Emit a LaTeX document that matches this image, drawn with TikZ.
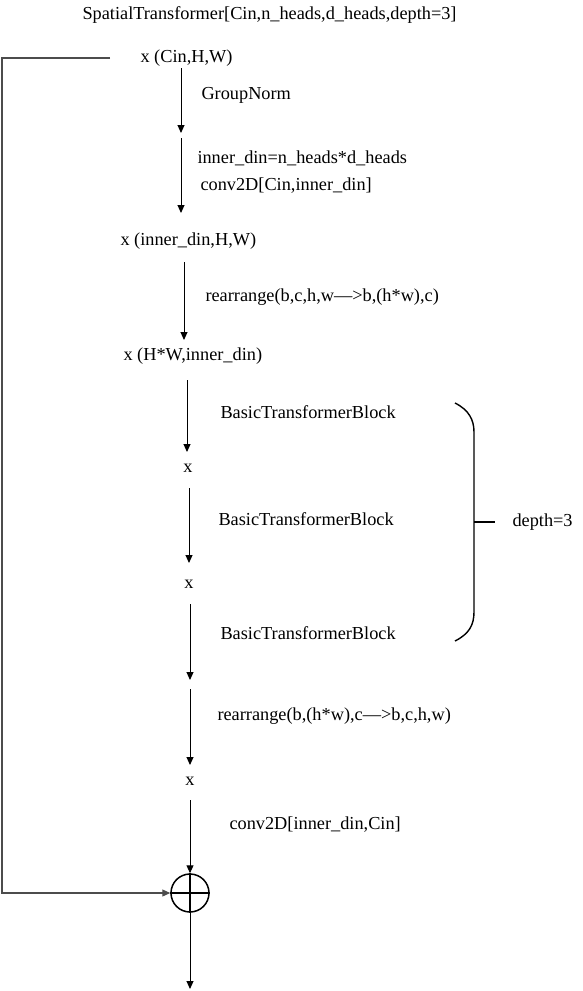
\documentclass[tikz,border=0pt]{standalone}
\usepackage{fontspec}
\setmainfont{Liberation Serif}
\usetikzlibrary{arrows.meta}

\begin{document}
\begin{tikzpicture}[x=1pt,y=-1pt,line width=1pt,>={Triangle[length=8pt,width=7pt]},
  every node/.style={inner sep=0pt,font=\fontsize{18.3}{21}\selectfont}]
\tikzset{lbl/.style={anchor=west},
  arr/.style={->},
  brace/.style={line width=1.4pt}}
\useasboundingbox (0,0) rectangle (583,991);
% ---------- texts ----------
\node[lbl] (title) at (82,15) {SpatialTransformer[Cin,n\_heads,d\_heads,depth=3]};
\node[lbl] (xin) at (140,58) {x (Cin,H,W)};
\node[lbl] (gnorm) at (201,95) {GroupNorm};
\node[lbl] (indim) at (197,158) {inner\_din=n\_heads*d\_heads};
\node[lbl] (convin) at (200,186) {conv2D[Cin,inner\_din]};
\node[lbl] (xinner) at (120,241) {x (inner\_din,H,W)};
\node[lbl] (rearra) at (205,297) {rearrange(b,c,h,w---{>}b,(h*w),c)};
\node[lbl] (xseq) at (123,356) {x (H*W,inner\_din)};
\node[lbl] (blka) at (220,412) {BasicTransformerBlock};
\node (xa) at (188,468) {x};
\node[lbl] (blkb) at (218,519) {BasicTransformerBlock};
\node (xb) at (189,584) {x};
\node[lbl] (blkc) at (220,633) {BasicTransformerBlock};
\node[lbl] (rearrb) at (217,716) {rearrange(b,(h*w),c---{>}b,c,h,w)};
\node (xc) at (190,781) {x};
\node[lbl] (convout) at (229,825) {conv2D[inner\_din,Cin]};
\node[lbl] (depth) at (512,522) {depth=3};
% ---------- adder ----------
\node[circle,draw,line width=1.5pt,minimum size=38pt] (add) at (190,893) {};
\draw[line width=1.5pt] (add.north) -- (add.south) (add.west) -- (add.east);
% ---------- arrows down the main path ----------
\foreach \i/\xx/\ya/\yb in {1/181/68/133, 2/181/138/213, 3/184/262/340,
  4/187/380/452, 5/189/488/563, 6/190/604/680, 7/190/689/765}{
  \coordinate (s\i) at (\xx,\ya); \coordinate (e\i) at (\xx,\yb);
  \draw[arr] (s\i) -- (e\i);
}
\coordinate (s8) at (190,800);
\draw[arr] (s8) -- (add.north);
\coordinate (out) at (190,989);
\draw[arr] (add.south) -- (out);
% ---------- residual ----------
\coordinate (skipa) at (110,58); \coordinate (skipb) at (2,58); \coordinate (skipc) at (2,893);
\draw[arr,black!70,line width=1.2pt] (skipa) -- (skipb) -- (skipc) -- (add.west);
% ---------- brace for depth ----------
\coordinate (brt) at (455,403); \coordinate (brb) at (455,641); \coordinate (brm) at (474,522);
\draw[brace] (brt) .. controls (469,410) and (474,420) .. (474,432) -- (474,612)
  .. controls (474,625) and (469,634) .. (brb);
\draw[brace] (brm) -- (depth.west -| 495,0);
\end{tikzpicture}
\end{document}
